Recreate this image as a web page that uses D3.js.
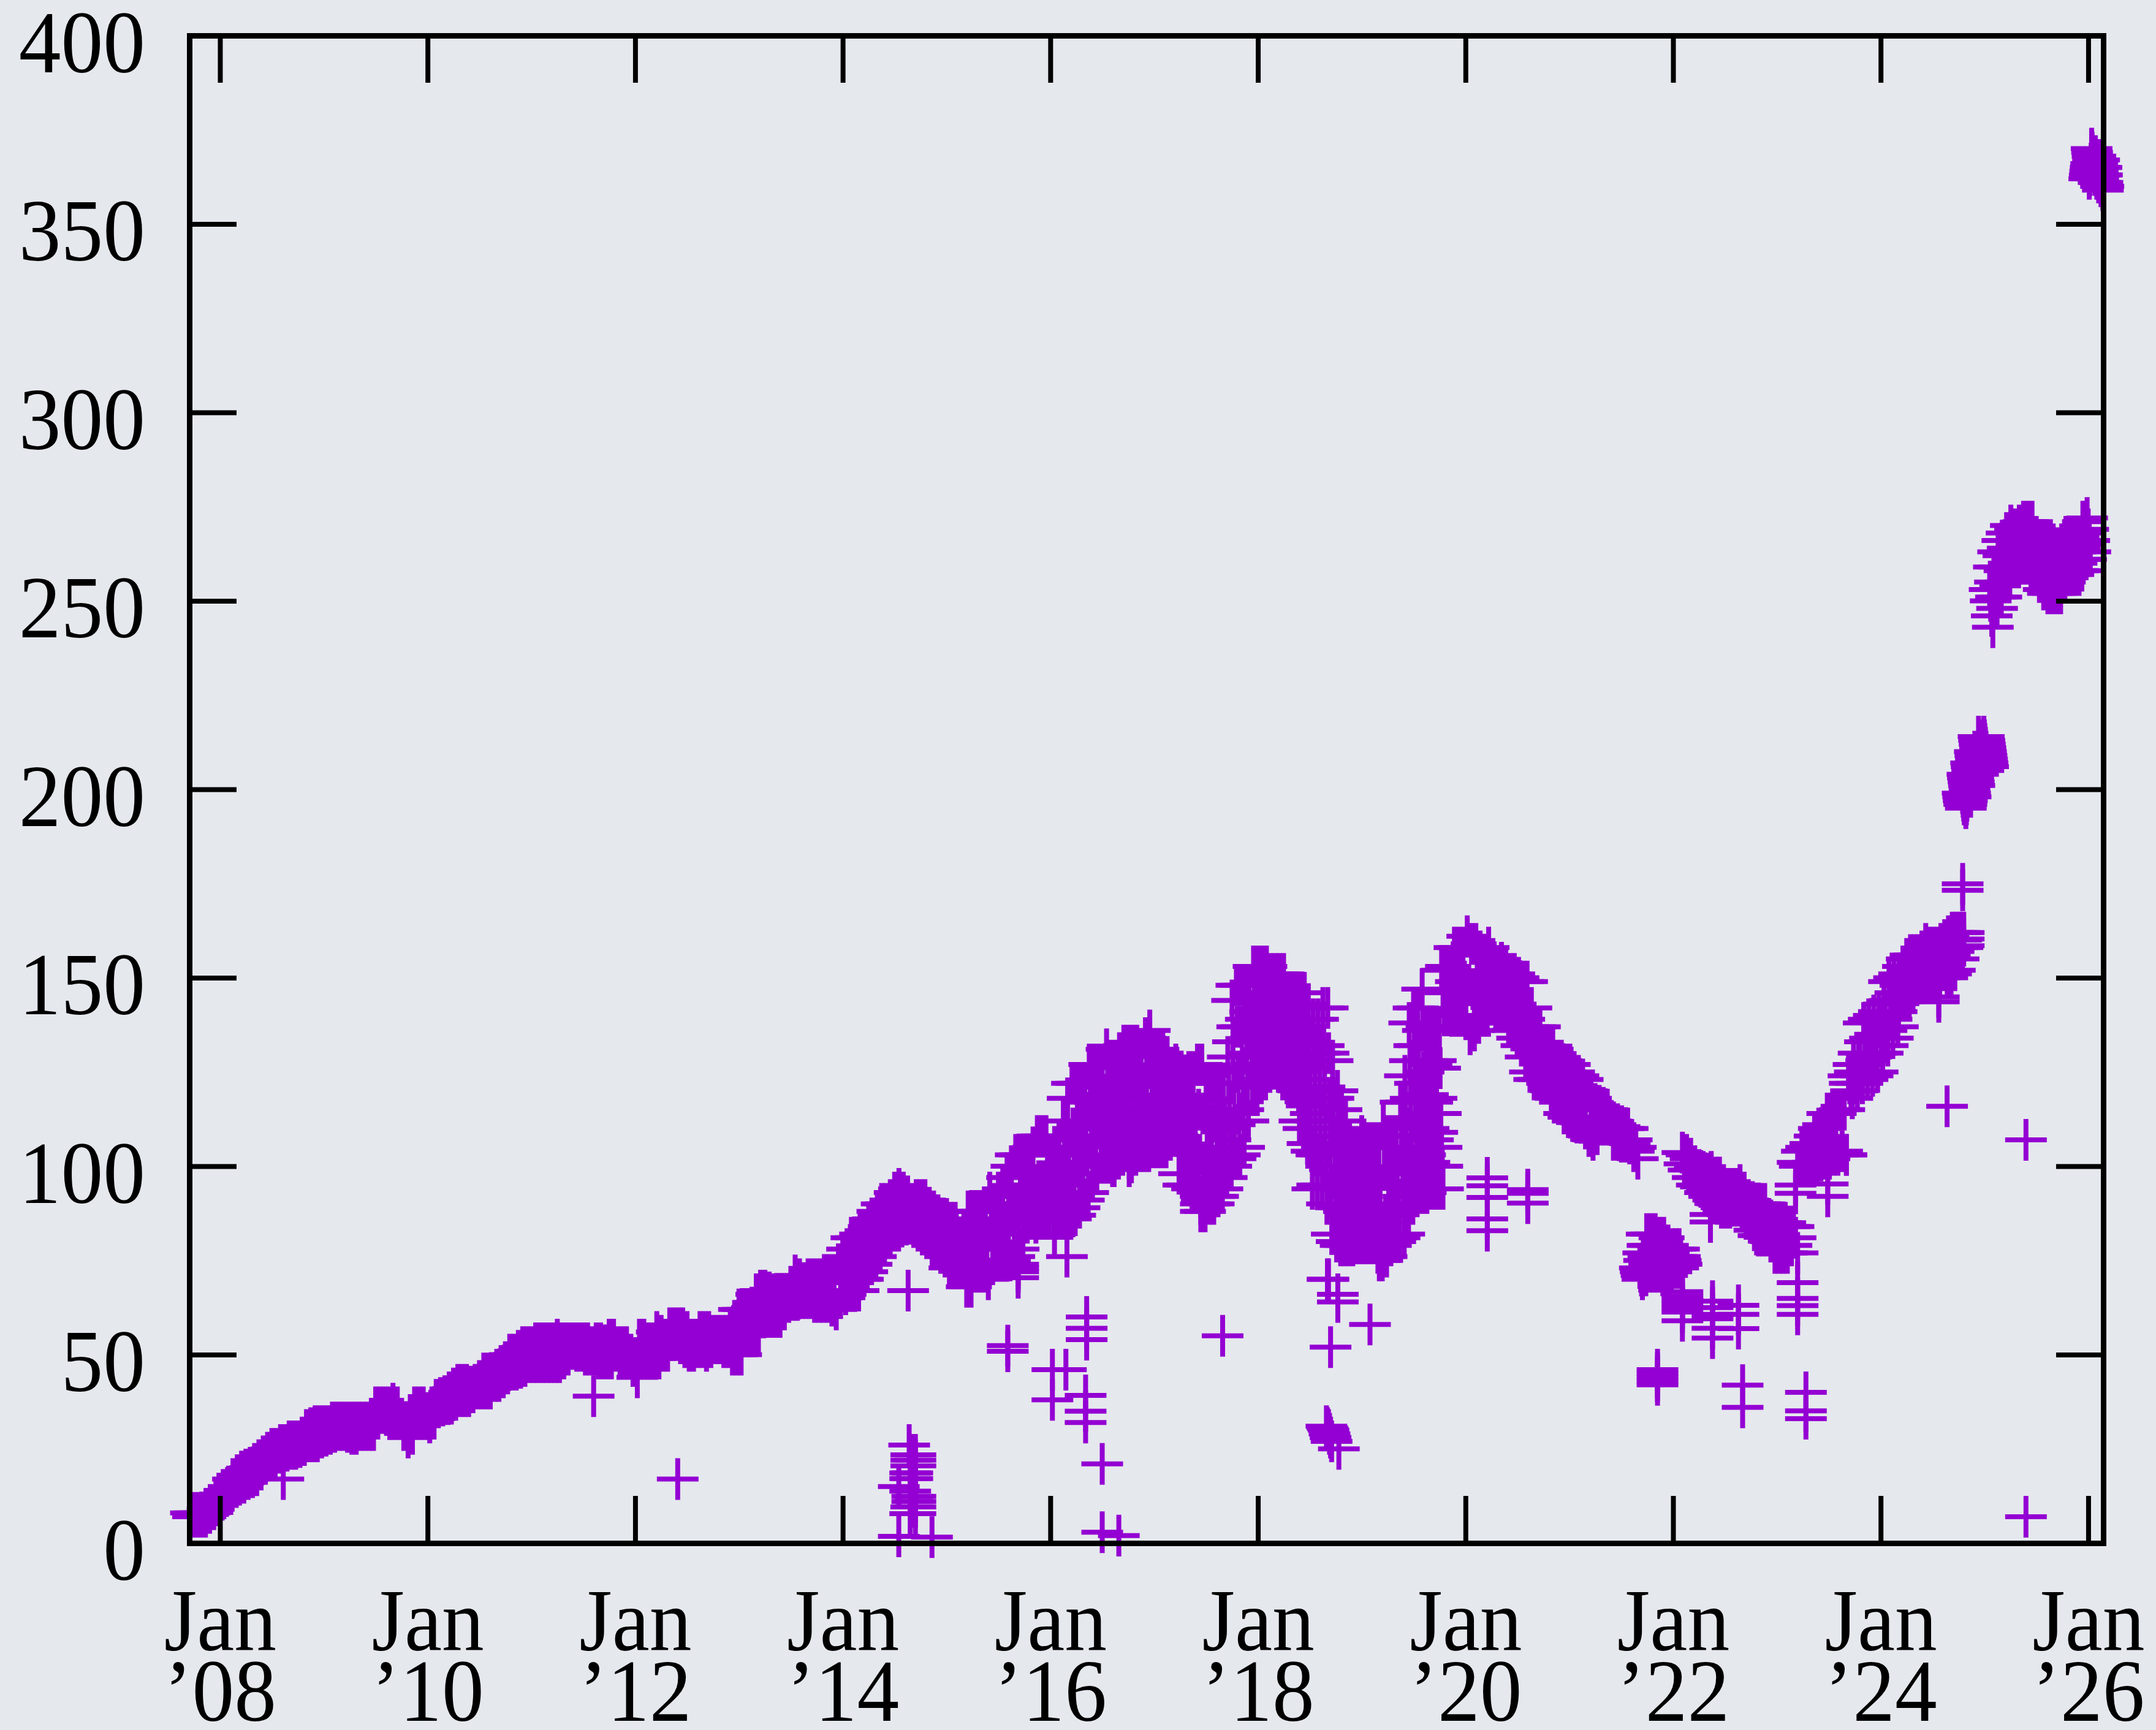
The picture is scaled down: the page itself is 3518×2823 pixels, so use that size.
<!DOCTYPE html>
<html><head><meta charset="utf-8">
<script src="https://cdn.jsdelivr.net/npm/d3@7/dist/d3.min.js"></script>
<style>html,body{margin:0;padding:0;background:#e5e8ed}svg{display:block}</style>
</head><body><svg id="c" width="3518" height="2823"></svg>
<script>
const yTicks=[0,50,100,150,200,250,300,350,400];
const xTicks=[2008,2010,2012,2014,2016,2018,2020,2022,2024,2026];
const xSecond=["’08","’10","’12","’14","’16","’18","’20","’22","’24","’26"];

const r07=[8,7,8,7,8,7,8,7,9,8,10,9,11,10];
const r08=[13,11.5,14,12.5,15,13,17,15,18,15.5,19,16,19.5,17,20,17.5,21,18,22,19.5,23,21,24,22,25,23,25,24,26,24,26,24.5,27,25,27,25,27,25.5,28,26,30,27,30.5,27,31,27,31,28];
const r09=[31,28.5,31,29,32,29.5,32,30,32,30,32,29.5,32,29,32,29,32,30,32,30,32,30,33,30,36,33,36,34.5,36,34,36,33,37,33,36,33,33,30,32,28,34,29,36,33,36,33,36,33];
const r10=[34.5,32,36,33,38,36,38.5,36.5,39,37,40,37,41,38,42,39,42,39,42,39,41.5,40,42,41,43,41,45,41,45,41,45,43,46,43,47,44,48,45,50,46,50,46,51,46.5,52,47,52,48];
const r11=[52,48,53,48,53,48,53,48,53,48,53,48,54,48,53,49,53,50,53,51.5,53,51,53,51,53,50,53,50,52,50,53,49,53,49,52.5,49,54,49,54,51,52,49,52,49,52,49,50,47];
const r12=[49,44,54,49,54,49,53,49,53,49,56,49,55,51,54,51,57,54,57,55,57,53,57,52,56,51,54,51,54,52,56,52,56,51,56,52,55,53,55,53,55,52,55,52,57,50,59,50];
const r13=[62,50,62,55,62,55.5,62.5,56,66,56,67,60,67,60,66.5,60,66,60,66,60,66,62,66,64,68,64.5,71,64.5,70,65,69,65,70,65,70,64,70,64,70,64,70,64,70,63,71,62,74,65];
const r14=[76,71,66,78,72,67,81,74,67,81,74,67,82,76,70,82,77,72,84,78,74,86,80,76,88,82,78,90,84,80,90,85,81,91,86,83,93,88,84,94,89,84,93,88,84.5,92,88,84.7,90,87,84,91,87,84,91,87,83,91,86,82,89,84,79,88,83,78,87,82,77,86,81,76];
const r15=[86,80,73,85,79,73,85,78,73,81,77,73,82,75,68,88,78,68,88,80,72,88,80,72,88,80,72,88,78,70,93,83,74,90,83,75,93,84,75,94,85,75,97,86,75,100,88,76,103,90,78,103,92,82,103,94,85,103,95,86,105,95,85,108,96,86,108,96,86,108,97,86];
const r16=[103,97,92,86,104,98,92,86,105,98,92,86,112,104,95,86,118,107,96,86,122,110,98,87,122,111,100,89,122,112,101,91,122,112,103,93,127,117,106,96,127,117,108,98,127,119,110,102,127,119,110,102,131,121,111,102,128,118,109,100,128,119,110,102,130,121,112,103,132,123,113,104,132,122,111,101,132,122,112,103,132,123,113,104,131,122,113,104,134,124,114,104,136,126,115,105];
const r17a=[131,122,114,105,131,122,114,105,130,122,113,105,129,122,114,107,124,119,113,108,127,117,108,98,125,115,105,95,124,114,104,95,125,114,104,94,125,114,104,94,127,115,103,92,127,114,101,88,122,111,100,90,122,111,100,90,122,112,102,92,122,112,103,94,122,113,105,97];
const r17b=[129,122,115,107,100,144,133,122,111,102,148,137,125,114,103,148,137,126,115,105,148,139,130,121,112,148,141,134,127,121,153,145,137,129,121,153,145,137,130,122,153,146,138,130,123,153,146,139,132,125,151,145,139,132,126,151,145,138,131,125,151,144,137,130,123,151,144,136,129,122,146,139,133,127,121];
const r18=[146,139,133,127,121,146,137,129,120,112,146,137,128,119,110,146,136,126,116,106,143,133,123,114,104,94,139,130,121,112,103,95,139,130,121,112,103,95,142,132,121,110,100,90,142,130,118,106,94,82,128,118,108,98,89,80,120,110,100,89,79,115,106,97,88,79,112,104,96,87,79,106,99,92,86,79,105,99,92,86,79.5,105,99,92,86,79.5];
const r19a=[108,99,89,79.5,105,97,87,79.5,105,96,87,79.5,105,95,85,77,105,95,85,75,111,99,87,76,108,98,88,79,108,98,89,80,108,99,90,81];
const r19b=[117,111,105,99,92,82,124,117,110,103,96,88,138,128,118,108,99,90,142,132,122,112,102,92,142,132,122,112,102,93,147,136,125,114,103,93,137,128,119,110,101,94,137,127,117,107,100,94,137,128,118,109,100,94,137,126,114,105,100,94];
const r20=[152,146,140,153,147,140,153,147,140,158,149,140,158,149,140,158,149,139,161,148,135,159,147,136,159,148,138,157,149,140,156,149,140,158,150,143,155,148,142,153,147,141,154,147,141,152,145,138,151,144,136,151,143,134,150,141,132,149,139,129,149,137,125,142,133,123,137,130,123,137,130,123,132,125,122,131,125,120,131,124,118,128,122,117,128,121,114,127,120,113,127,119,112,125,118,111.6,124,118,111.5,123,116,110];
const r21a=[120,108,118,107,116.5,108.5,116,111,115.5,111,115,111,112,107,111,107,110.5,106.5,110,106.5,110,106,107,104,105,102];
const r21b=[73,72,71,70,77,75,73,71,82,79,76,74,72,82,79,76,74,72,82,79,76,74,72,81,78,75,73,71,81,78,75,73,71,79,77,75,73,72,78,76,75,73,78,76,75,73,78,76,75,74];
const r22=[103.6,100.6,103,99,102,97,100,95,99,94.5,98.5,93,98,92,98.5,91,97,90,97,89,95,89,94,89,94,89.5,94,89.5,95,88,93,86,91,85,90.5,83,90,81.6,90,81.6,90,81.6,86,80,85,77,85,77,85,77,85,77,84,79,84,81];
const r23a=[101,100,104,100,105,100.5,106,101,108,101,110,101.5,111,102,114,102,114,103,114,103,115,104,115,103];
const r23b=[124,122,120,118,127,125,122,120,130,127,124,122,138,133,128,123,139,134,129,124,140,135,130,125,141,138,134,130,143,140,136,132,149,144,139,134,150,146,141,137,151,148,144,153,149,144,155,150,145,156,152,147,156,152,148,156,152,148.5,157,153,149,159,154,149,158,153,149,158,153,149,158,154,150,159,155,152,160,155,150,161,156,151,162,157,152,162,158,155,162,160,158];
const r24=[199,198,197,196,197,196,195,196,197,204,203,202,201,200,199,198,207,206,205,204,203,202,201,210,209,208,207,206,205,204,214,213,212,211,210,209,208,207,206,205,214,213,212,211,210,209,208,207,206];
const r25=[253,250,246,243,259,255,251,248,263,259,254,251,266,262,258,255,268,264,260,257,270,266,263,260,269,266,263,261,270,267,263,260,271,267,263,260,271,266,262,258,271,266,261,257,267,262,258,255,266,261,256,253,265,260,255,252,266,260,255,252,265,259,255,252,264,258,255,252,265,261,257,255,267,263,260,257,267,263,260,257,267,263,260,258,267,264,261,258,271,268,265,261,272,269,266,263];
const r26=[362,363,364,365,366,370,369,368,367,366,365,364,363,368,366,364,362,366,364,362,361,367,365,363,361,360,365,363,361,359,360];

const runs=[r07,r08,r09,r10,r11,r12,r13,r14,r15,r16,r17a,r17b,r18,r19a,r19b,r20,r21a,r21b,r22,r23a,r23b,r24,r25,r26];
const runStart=[2007.72,2008,2009,2010,2011,2012,2013,2014,2015,2016,2017,2017.71,2018.33,2019,2019.375,2019.77,2021.17,2021.68,2022.09,2023.2,2023.69,2024.79,2025.05,2026.01];
const runEnd=[2008,2009,2010,2011,2012,2013,2014,2015,2016,2017,2017.71,2018.33,2019,2019.375,2019.79,2021.17,2021.68,2022.09,2023.2,2023.69,2024.8,2025.04,2026.03,2026.15];

const oddDates=[2008.61,2011.6,2012.41,2014.17,2014.28,2014.63,
2014.64,2014.66,2014.7,2014.66,2014.7,2014.66,2014.7,2014.65,2014.67,2014.65,2014.67,2014.54,2014.65,2014.67,2014.7,2014.67,2014.7,2014.66,2014.7,2014.65,2014.7,2014.54,2014.86,
2015.59,2015.59,2015.69,2015.69,2015.69,2015.69,2016.02,2016.15,2016.02,2016.04,2016.16,2016.35,2016.35,2016.35,2016.34,2016.34,2016.34,2016.5,2016.5,2016.66,2016.6,2016.76,2016.76,
2017.45,2017.45,2017.58,2017.66,
2018.66,2018.67,2018.68,2018.69,2018.7,2018.71,2018.68,2018.67,2018.7,2018.77,2018.77,2018.78,2019.08,2019.17,
2020.21,2020.21,2020.21,2020.21,2020.21,2020.6,2020.6,2020.6,
2021.85,2021.85,2021.85,2021.85,2021.85,
2022.09,2022.09,2022.09,2022.09,2022.09,2022.09,2022.09,2022.36,2022.36,
2022.38,2022.38,2022.38,2022.38,2022.38,2022.38,2022.63,2022.63,2022.63,2022.67,2022.67,
2023.2,2023.2,2023.2,2023.2,2023.2,2023.28,2023.28,2023.28,2023.49,2023.49,2023.18,2023.18,2023.67,
2024.56,2024.56,2024.64,2024.79,2024.79,2024.8,2024.8,2024.8,2025.4,2025.4];
const oddPrices=[17,39,17,70,77,67,
26,23.4,23.4,22,22,20.5,20.5,18.6,18.6,17.1,17.1,15,13.8,12.4,12.4,11,11,9.6,9.6,7.8,7.8,1.8,1.6,
52.4,50.9,74,73,72,70.4,46,46,38,81.8,76,60,57,54,39.2,35,32,21,2.9,2,100,102,100,
90,88,92,55,
31,30.5,30,29,28,27,70,70,52,66,64,25,58,75,
96.9,94.8,91.7,86,82.9,93.8,92.8,90.2,
46,45,44,43,42,
66.7,65.5,64.5,63.5,62.5,61.3,59,87.2,85.2,
64.2,62.5,60.7,59.5,57,54.4,63.1,60.7,56.9,41.9,36,
69.1,64.9,63,60.7,77,40,35.1,33,95.3,92,95,92.8,103,
143.6,144.9,115.9,174.9,173.2,162,160.3,158.5,107,7];

const W=3518,H=2823,L=309,R=3432,T=58,B=2518,TICK=77,ARM=34,SQUEEZE=0.955;
const x=d3.scaleLinear().domain([2007.705,2026.145]).range([L,R]);
const y=d3.scaleLinear().domain([0,400]).range([B,T]);
const pts=[];
runs.forEach((r,k)=>r.forEach((p,i)=>pts.push([runStart[k]+(runEnd[k]-runStart[k])*i/r.length,p])));
oddDates.forEach((d,i)=>pts.push([d,oddPrices[i]]));

const svg=d3.select("#c");
svg.append("rect").attr("width",W).attr("height",H).attr("fill","#e5e8ed");
const plus=`M${-ARM},0H${ARM}M0,${-ARM}V${ARM}`;
svg.append("g").selectAll("path").data(pts).join("path")
 .attr("transform",d=>`translate(${x(d[0])},${y(d[1])})`)
 .attr("d",plus).attr("fill","none").attr("stroke","#9400d3").attr("stroke-width",8);

const style=g=>{g.attr("font-family","'Liberation Serif',serif").attr("font-size",144).attr("fill","#000");
 g.selectAll("line,path").attr("stroke","#000");
 g.select(".domain").attr("stroke-width",9).attr("stroke-linecap","square");
 g.selectAll(".tick line").attr("stroke-width",8);
 g.selectAll(".tick text").attr("fill","#000");};

svg.append("g").attr("transform",`translate(${L},0)`)
 .call(d3.axisLeft(y).tickValues(yTicks).tickSize(-TICK).tickSizeOuter(0).tickPadding(72).tickFormat(d3.format("d")))
 .call(style).call(g=>g.selectAll(".tick text").attr("dy",59).attr("x",-72/SQUEEZE).attr("text-anchor","end").attr("transform",`scale(${SQUEEZE},1)`));
svg.append("g").attr("transform",`translate(${R},0)`)
 .call(d3.axisRight(y).tickValues(yTicks).tickSize(-TICK).tickSizeOuter(0).tickFormat(""))
 .call(style);
svg.append("g").attr("transform",`translate(0,${T})`)
 .call(d3.axisTop(x).tickValues(xTicks).tickSize(-TICK).tickSizeOuter(0).tickFormat(""))
 .call(style);
svg.append("g").attr("transform",`translate(0,${B})`)
 .call(d3.axisBottom(x).tickValues(xTicks).tickSize(-TICK).tickSizeOuter(0).tickFormat(""))
 .call(style)
 .call(g=>g.selectAll(".tick text").attr("dy",null).attr("y",0).attr("text-anchor","middle").attr("transform",`scale(${SQUEEZE},1)`).each(function(d,i){
   const t=d3.select(this);
   t.append("tspan").attr("x",0).attr("y",175).text("Jan");
   t.append("tspan").attr("x",0).attr("y",290).text(xSecond[i]);
 }));
</script></body></html>
